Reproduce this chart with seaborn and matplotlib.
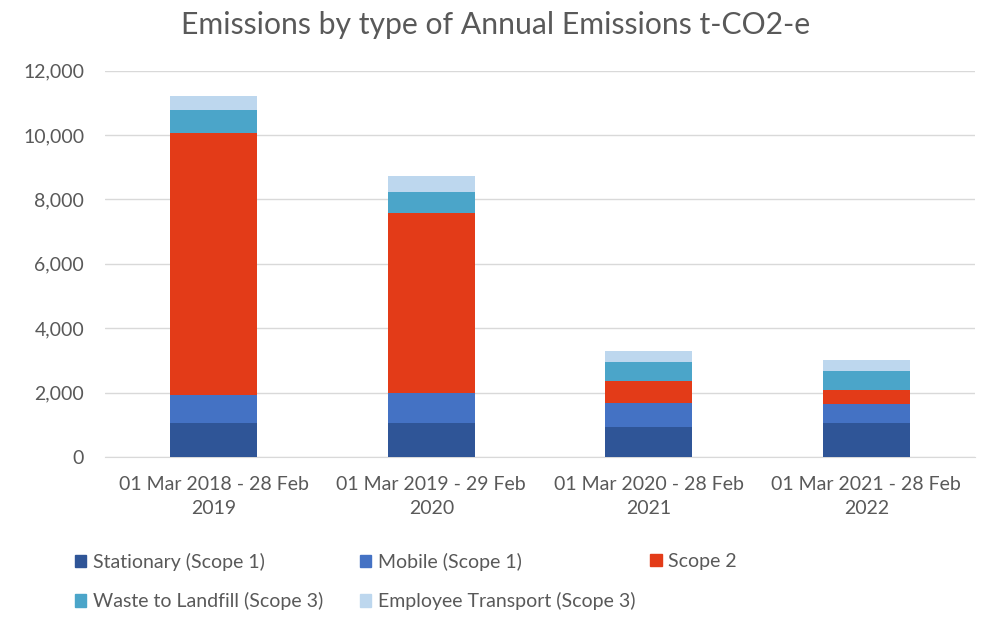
import pandas as pd
import seaborn as sns
import matplotlib.pyplot as plt
from matplotlib.patches import Patch

# Datos
periodos = ["01 Mar 2018 - 28 Feb\n2019", "01 Mar 2019 - 29 Feb\n2020",
            "01 Mar 2020 - 28 Feb\n2021", "01 Mar 2021 - 28 Feb\n2022"]
tipos = ["Stationary (Scope 1)", "Mobile (Scope 1)", "Scope 2",
         "Waste to Landfill (Scope 3)", "Employee Transport (Scope 3)"]
estacionaria = [1040, 1060, 935, 1055]
movil = [880, 930, 745, 580]
alcance2 = [8150, 5575, 685, 435]
residuos = [705, 670, 590, 600]
transporte = [445, 490, 340, 355]
colores = ["#2F5597", "#4472C4", "#E33B18", "#4BA5C9", "#BDD7EE"]

df = pd.DataFrame({"periodo": periodos, tipos[0]: estacionaria, tipos[1]: movil,
                   tipos[2]: alcance2, tipos[3]: residuos, tipos[4]: transporte})
acum = df[tipos].cumsum(axis=1)
acum["periodo"] = df["periodo"]

sns.set_style("white")
plt.rcParams['font.family'] = ['Lato', 'DejaVu Sans']
gris = "#595959"

fig, ax = plt.subplots(figsize=(9.91, 6.2), dpi=100)
fig.subplots_adjust(left=0.106, right=0.984, top=0.886, bottom=0.263)

# Barras apiladas: dibujar del total hacia abajo
for tipo, color in reversed(list(zip(tipos, colores))):
    sns.barplot(data=acum, x="periodo", y=tipo, color=color, width=0.4,
                saturation=1, linewidth=0, ax=ax, zorder=3)

ax.set_ylim(0, 12000)
ax.set_yticks(range(0, 12001, 2000))
ax.set_yticklabels([f"{v:,}" for v in range(0, 12001, 2000)])
ax.yaxis.grid(True, color="#D9D9D9", linewidth=1, zorder=0)
ax.set_axisbelow(True)
for s in ["top", "right", "left"]:
    ax.spines[s].set_visible(False)
ax.spines["bottom"].set_color("#D9D9D9")
ax.tick_params(axis="both", length=0, colors=gris, labelsize=14)
ax.tick_params(axis="y", pad=15)
ax.tick_params(axis="x", pad=14)
for lbl in ax.get_xticklabels():
    lbl.set_linespacing(1.45)
ax.set_xlabel("")
ax.set_ylabel("")
fig.text(0.5, 1 - 25 / 620, "Emissions by type of Annual Emissions t-CO2-e",
         fontsize=21.7, color=gris, ha="center", va="center")

# Leyenda en dos filas, tres columnas a posiciones fijas
columnas = [[0, 3], [1, 4], [2]]
x_col = [0.0676, 0.355, 0.648]
for idx, x0 in zip(columnas, x_col):
    handles = [Patch(color=colores[i], label=tipos[i]) for i in idx]
    fig.legend(handles=handles, loc="upper left", bbox_to_anchor=(x0, 1 - 545 / 620),
               frameon=False, fontsize=14, labelcolor=gris, handlelength=0.6,
               handleheight=0.6, handletextpad=0.35, labelspacing=1.1,
               borderaxespad=0)

plt.savefig("out.png", dpi=100)
